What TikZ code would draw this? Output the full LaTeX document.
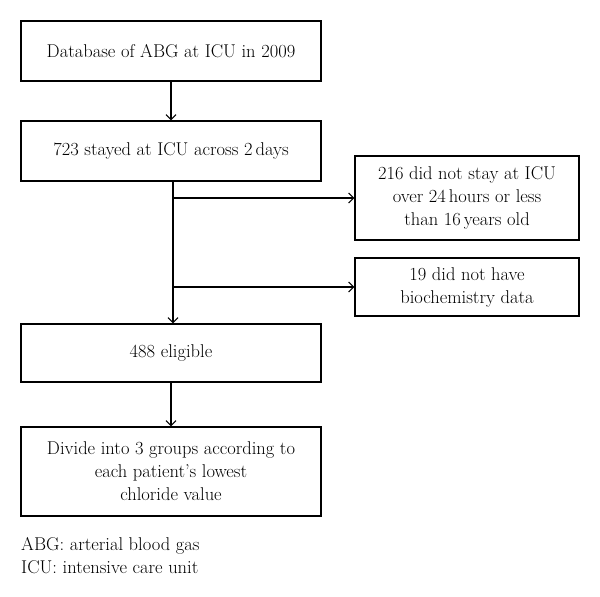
\documentclass[tikz,border=0pt]{standalone}
\usepackage{tikz}
\usetikzlibrary{arrows.meta, positioning, calc}

\begin{document}
\begin{tikzpicture}[x=1pt, y=-1pt, >={Straight Barb[length=5pt,width=10pt]},
  box/.style={draw, line width=1.3pt, align=center, inner sep=0pt, font=\fontsize{18.5}{23}\selectfont},
  flow/.style={->, line width=1.1pt}]
\useasboundingbox (0,0) rectangle (600,597);
\node[box, minimum width=300, minimum height=60] (db) at (171,51) {Database of ABG at ICU in 2009};
\node[box, minimum width=300, minimum height=60] (stay) at (171,151) {723 stayed at ICU across 2\,days};
\node[box, minimum width=224, minimum height=84] (excl1) at (467,198) {216 did not stay at ICU\\over 24\,hours or less\\than 16\,years old};
\node[box, minimum width=224, minimum height=58] (excl2) at (467,287) {19 did not have\\biochemistry data};
\node[box, minimum width=300, minimum height=58] (elig) at (171,353) {488 eligible};
\node[box, minimum width=300, minimum height=89] (groups) at (171,471.5) {Divide into 3 groups according to\\each patient's lowest\\chloride value};
\node[anchor=base west, align=left, inner sep=0pt, font=\fontsize{18.5}{23}\selectfont] (note) at (21,573) {ABG: arterial blood gas\\ICU: intensive care unit};

\coordinate (top) at ($(stay.south)+(2,0)$);
\draw[flow] (db) -- (stay);
\draw[flow] (top) -- (top |- elig.north);
\draw[flow] (top |- excl1.west) -- (excl1.west);
\draw[flow] (top |- excl2.west) -- (excl2.west);
\draw[flow] (elig) -- (groups);

\end{tikzpicture}
\end{document}
